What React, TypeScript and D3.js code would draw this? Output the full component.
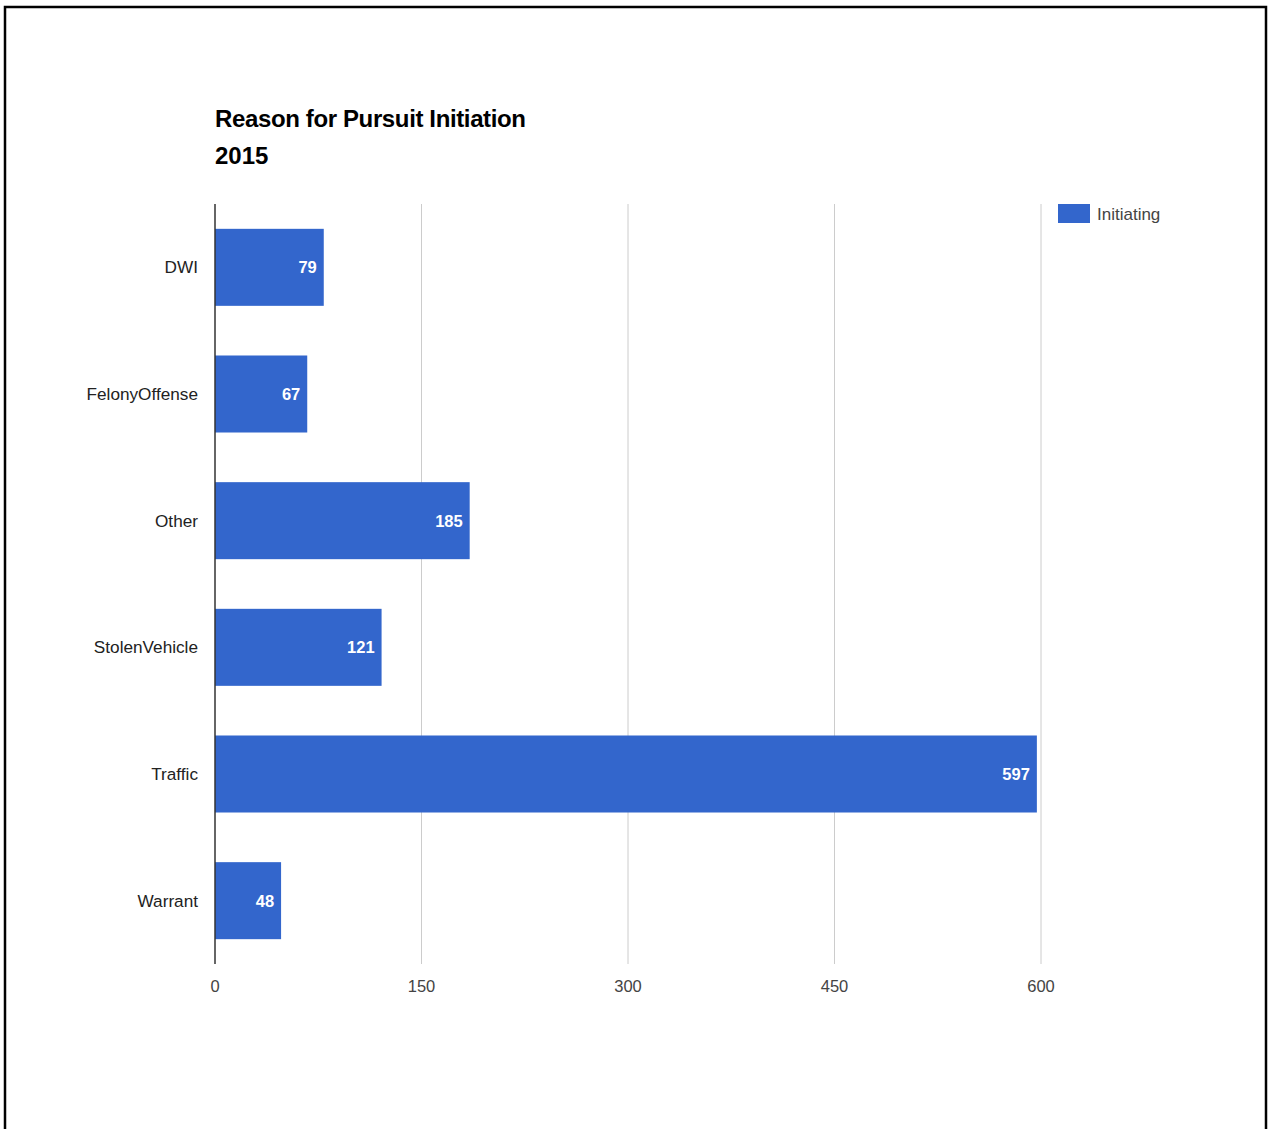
import React from "react";
import * as d3 from "d3";

const categories = ["DWI", "FelonyOffense", "Other", "StolenVehicle", "Traffic", "Warrant"];
const values = [79, 67, 185, 121, 597, 48];
const xTicks = [0, 150, 300, 450, 600];
const seriesName = "Initiating";
const titleLines = ["Reason for Pursuit Initiation", "2015"];

export default function App() {
  const W = 1271, H = 1129;
  const left = 215, right = 1041, top = 204, bottom = 964;
  const x = d3.scaleLinear().domain([0, 600]).range([left, right]);
  const y = d3.scaleBand().domain(categories).range([top, bottom]).paddingInner(0.392).paddingOuter(0.196);
  const font = "'Liberation Sans', Arial, sans-serif";
  return (
    <svg width={W} height={H} style={{ position: "absolute", left: 0, top: 0, background: "#fff" }} fontFamily={font}>
      <rect x={0} y={0} width={W} height={H} fill="#fff" />
      <rect x={5} y={7} width={1261} height={1140} fill="none" stroke="#000" strokeWidth={2.5} />
      {titleLines.map((t, i) => (
        <text key={i} x={left} y={127 + i * 37} fontSize={24} fontWeight="bold" fill="#000" textLength={i === 0 ? 311 : undefined}>{t}</text>
      ))}
      {xTicks.map((t) => (
        <g key={t}>
          {t !== 0 && <line x1={x(t)} x2={x(t)} y1={top} y2={bottom} stroke="#cccccc" strokeWidth={1} />}
          <text x={x(t)} y={992} textAnchor="middle" fontSize={16.5} fill="#444">{t}</text>
        </g>
      ))}
      {categories.map((c, i) => {
        const by = y(c)!;
        const bh = y.bandwidth();
        return (
          <g key={c}>
            <rect x={x(0)} y={by} width={x(values[i]) - x(0)} height={bh} fill="#3366cc" />
            <text x={x(values[i]) - 7} y={by + bh / 2 + 6} textAnchor="end" fontSize={16.5} fontWeight="bold" fill="#fff">{values[i]}</text>
            <text x={198} y={by + bh / 2 + 6} textAnchor="end" fontSize={17.2} fill="#222">{c}</text>
          </g>
        );
      })}
      <line x1={x(0)} x2={x(0)} y1={top} y2={bottom} stroke="#333" strokeWidth={1.5} />
      <rect x={1058} y={204} width={32} height={19} fill="#3366cc" />
      <text x={1097} y={220} fontSize={17} fill="#444">{seriesName}</text>
    </svg>
  );
}
